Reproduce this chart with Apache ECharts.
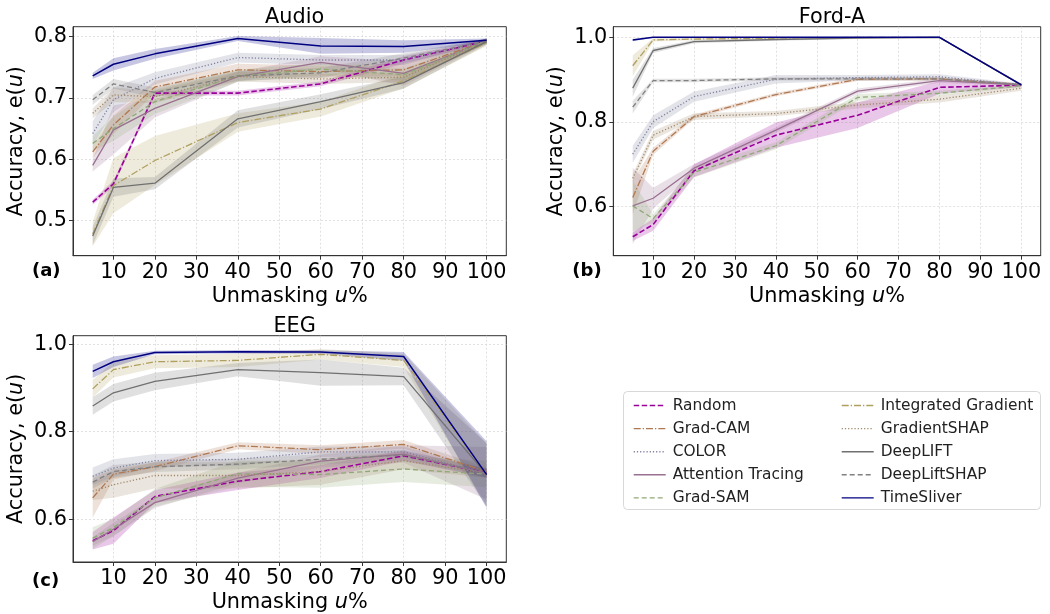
<!DOCTYPE html>
<html lang="en">
<head>
<meta charset="UTF-8">
<title>Unmasking accuracy</title>
<script src="https://cdn.jsdelivr.net/npm/echarts@6/dist/echarts.min.js"></script>
<style>
    html, body { margin: 0; padding: 0; background: #fff; }
    #container { width: 1050px; height: 614px; }
</style>
</head>
<body>
<div id="container"></div>
<script>
    // unmasking percentages
    const xVals = [5, 10, 20, 40, 60, 80, 100];
    const xTicks = [10, 20, 30, 40, 50, 60, 70, 80, 90, 100];

    const methods = ['Random', 'Grad-CAM', 'COLOR', 'Attention Tracing', 'Grad-SAM',
        'Integrated Gradient', 'GradientSHAP', 'DeepLIFT', 'DeepLiftSHAP', 'TimeSliver'];

    // rows follow the order of methods
    const audioMean = [
        [0.530, 0.560, 0.708, 0.708, 0.723, 0.762, 0.793],
        [0.612, 0.656, 0.718, 0.746, 0.743, 0.746, 0.793],
        [0.642, 0.697, 0.732, 0.766, 0.762, 0.762, 0.793],
        [0.590, 0.648, 0.683, 0.735, 0.758, 0.740, 0.793],
        [0.626, 0.650, 0.694, 0.736, 0.747, 0.738, 0.793],
        [0.478, 0.557, 0.598, 0.660, 0.682, 0.728, 0.790],
        [0.675, 0.705, 0.702, 0.735, 0.731, 0.734, 0.792],
        [0.475, 0.554, 0.561, 0.666, 0.694, 0.725, 0.792],
        [0.697, 0.723, 0.709, 0.736, 0.741, 0.765, 0.793],
        [0.736, 0.755, 0.772, 0.797, 0.785, 0.784, 0.794]
    ];
    const audioSd = [
        [0.004, 0.005, 0.004, 0.004, 0.004, 0.006, 0.003],
        [0.010, 0.015, 0.010, 0.010, 0.010, 0.010, 0.004],
        [0.020, 0.020, 0.010, 0.008, 0.008, 0.008, 0.004],
        [0.010, 0.040, 0.015, 0.008, 0.010, 0.020, 0.004],
        [0.012, 0.020, 0.020, 0.010, 0.010, 0.010, 0.004],
        [0.020, 0.045, 0.040, 0.015, 0.012, 0.012, 0.005],
        [0.008, 0.012, 0.010, 0.008, 0.008, 0.008, 0.004],
        [0.015, 0.015, 0.010, 0.014, 0.012, 0.010, 0.005],
        [0.008, 0.008, 0.008, 0.008, 0.008, 0.008, 0.004],
        [0.005, 0.010, 0.008, 0.004, 0.013, 0.010, 0.003]
    ];

    const fordMean = [
        [0.529, 0.558, 0.685, 0.769, 0.816, 0.882, 0.887],
        [0.622, 0.731, 0.813, 0.865, 0.901, 0.902, 0.888],
        [0.724, 0.801, 0.860, 0.901, 0.905, 0.907, 0.888],
        [0.602, 0.620, 0.691, 0.781, 0.873, 0.898, 0.888],
        [0.602, 0.572, 0.681, 0.744, 0.858, 0.868, 0.886],
        [0.933, 0.994, 0.996, 0.998, 1.000, 1.000, 0.888],
        [0.667, 0.769, 0.813, 0.820, 0.840, 0.854, 0.880],
        [0.880, 0.969, 0.990, 0.995, 0.998, 1.000, 0.888],
        [0.835, 0.898, 0.898, 0.902, 0.902, 0.902, 0.888],
        [0.994, 1.000, 1.000, 1.000, 1.000, 1.000, 0.888]
    ];
    const fordSd = [
        [0.010, 0.015, 0.015, 0.030, 0.030, 0.015, 0.004],
        [0.040, 0.008, 0.005, 0.004, 0.004, 0.004, 0.003],
        [0.020, 0.015, 0.012, 0.010, 0.006, 0.006, 0.003],
        [0.090, 0.025, 0.010, 0.006, 0.006, 0.005, 0.003],
        [0.060, 0.010, 0.012, 0.008, 0.008, 0.006, 0.003],
        [0.025, 0.004, 0.003, 0.002, 0.001, 0.001, 0.003],
        [0.010, 0.010, 0.008, 0.006, 0.008, 0.008, 0.006],
        [0.020, 0.006, 0.004, 0.003, 0.002, 0.002, 0.003],
        [0.015, 0.004, 0.004, 0.004, 0.004, 0.004, 0.003],
        [0.003, 0.001, 0.001, 0.001, 0.001, 0.001, 0.002]
    ];

    const eegMean = [
        [0.551, 0.574, 0.652, 0.687, 0.709, 0.745, 0.706],
        [0.649, 0.703, 0.720, 0.768, 0.759, 0.771, 0.709],
        [0.698, 0.717, 0.734, 0.737, 0.754, 0.754, 0.705],
        [0.549, 0.577, 0.638, 0.694, 0.733, 0.749, 0.705],
        [0.557, 0.581, 0.649, 0.704, 0.702, 0.715, 0.703],
        [0.898, 0.942, 0.960, 0.963, 0.977, 0.963, 0.702],
        [0.664, 0.679, 0.700, 0.700, 0.709, 0.734, 0.705],
        [0.859, 0.889, 0.915, 0.942, 0.935, 0.926, 0.702],
        [0.685, 0.709, 0.720, 0.726, 0.737, 0.747, 0.705],
        [0.938, 0.960, 0.981, 0.983, 0.982, 0.972, 0.702]
    ];
    const eegSd = [
        [0.020, 0.030, 0.015, 0.020, 0.015, 0.012, 0.010],
        [0.045, 0.012, 0.010, 0.008, 0.010, 0.010, 0.010],
        [0.020, 0.020, 0.015, 0.015, 0.012, 0.012, 0.010],
        [0.010, 0.015, 0.012, 0.012, 0.015, 0.020, 0.060],
        [0.025, 0.020, 0.020, 0.030, 0.030, 0.030, 0.030],
        [0.020, 0.018, 0.015, 0.015, 0.012, 0.015, 0.070],
        [0.020, 0.030, 0.030, 0.030, 0.030, 0.020, 0.010],
        [0.020, 0.020, 0.020, 0.015, 0.030, 0.020, 0.072],
        [0.015, 0.015, 0.012, 0.012, 0.012, 0.012, 0.010],
        [0.015, 0.012, 0.004, 0.004, 0.004, 0.010, 0.076]
    ];

    const audioTicks = [0.5, 0.6, 0.7, 0.8];
    const fordTicks = [0.6, 0.8, 1.0];
    const eegTicks = [0.6, 0.8, 1.0];

    // style per method
    const colors = ['#990099', '#b07850', '#7f7f9f', '#9a7090', '#90a878',
        '#b0a060', '#a08868', '#707070', '#808080', '#000080'];
    const dashes = [[5.5, 2.5], [7, 2, 1.3, 2], [1.2, 2], 'solid', [5, 3],
        [7, 2, 1.3, 2], [1.2, 2], 'solid', [5, 3], 'solid'];
    const widths = [1.6, 1.3, 1.3, 1.3, 1.3, 1.3, 1.3, 1.3, 1.3, 1.5];

    const FONT = 'DejaVu Sans';
    const BIG = 20.8;

    const panels = [
        { title: 'Audio', tag: '(a)', mean: audioMean, sd: audioSd, ticks: audioTicks,
          min: 0.4427, max: 0.8163, left: 73, top: 26.7, width: 433.3, height: 229 },
        { title: 'Ford-A', tag: '(b)', mean: fordMean, sd: fordSd, ticks: fordTicks,
          min: 0.4843, max: 1.0252, left: 613.3, top: 26.7, width: 427.4, height: 229 },
        { title: 'EEG', tag: '(c)', mean: eegMean, sd: eegSd, ticks: eegTicks,
          min: 0.5023, max: 1.0195, left: 73, top: 335.7, width: 433.3, height: 229.3 }
    ];

    var chart = echarts.init(document.getElementById('container'), null, { renderer: 'canvas' });

    const grids = [], xAxes = [], yAxes = [], series = [], titles = [];
    const splitStyle = { show: true, lineStyle: { color: '#d8d8d8', type: [2, 2], width: 0.8 } };
    const tickStyle = { show: true, length: 4, inside: false, lineStyle: { color: '#333', width: 1 } };
    const rich = { i: { fontStyle: 'italic', fontSize: BIG, fontFamily: FONT, color: '#000' } };

    // shaded band (mean ± sd) drawn as one polygon through the axis scales
    function bandSeries(gi, mean, sd, color)
    {
        const rows = xVals.map(function (x, k) { return [x, mean[k] - sd[k], mean[k] + sd[k]]; });
        return {
            type: 'custom', name: 'band', xAxisIndex: gi, yAxisIndex: gi, silent: true, z: 1,
            data: rows,
            encode: { x: 0, y: [1, 2] },
            renderItem: function (params, api)
            {
                if (params.dataIndex !== 0) return null;
                const upper = rows.map(function (r) { return api.coord([r[0], r[2]]); });
                const lower = rows.map(function (r) { return api.coord([r[0], r[1]]); }).reverse();
                return {
                    type: 'polygon',
                    shape: { points: upper.concat(lower) },
                    style: { fill: color, opacity: 0.22, stroke: null }
                };
            }
        };
    }

    panels.forEach(function (p, gi)
    {
        grids.push({
            left: p.left, top: p.top, width: p.width, height: p.height,
            show: true, borderColor: '#333', borderWidth: 1, backgroundColor: 'transparent'
        });
        xAxes.push({
            type: 'value', gridIndex: gi, min: 0.25, max: 104.75,
            axisLine: { show: true, onZero: false, lineStyle: { color: '#333' } },
            axisTick: Object.assign({ customValues: xTicks }, tickStyle),
            axisLabel: { customValues: xTicks, fontSize: BIG, fontFamily: FONT, color: '#000', margin: 6 },
            splitLine: splitStyle,
            name: 'Unmasking {i|u}%', nameLocation: 'middle', nameGap: 30,
            nameTextStyle: { fontSize: BIG, fontFamily: FONT, color: '#000', rich: rich }
        });
        yAxes.push({
            type: 'value', gridIndex: gi, min: p.min, max: p.max,
            axisLine: { show: true, lineStyle: { color: '#333' } },
            axisTick: Object.assign({ customValues: p.ticks }, tickStyle),
            axisLabel: {
                customValues: p.ticks, fontSize: BIG, fontFamily: FONT, color: '#000', margin: 6,
                formatter: function (v) { return v.toFixed(1); }
            },
            splitLine: splitStyle,
            name: 'Accuracy, e({i|u})', nameLocation: 'middle', nameGap: 46, nameRotate: 90,
            nameTextStyle: { fontSize: BIG, fontFamily: FONT, color: '#000', rich: rich }
        });
        titles.push({
            text: p.title, left: p.left + p.width / 2, top: p.top - 25, textAlign: 'center',
            textStyle: { fontSize: BIG, fontWeight: 'normal', fontFamily: FONT, color: '#000' }
        });
        titles.push({
            text: p.tag, left: p.left - 46, top: p.top + p.height + 2,
            textStyle: { fontSize: 18, fontWeight: 'bold', fontFamily: FONT, color: '#000' }
        });

        methods.forEach(function (m, mi)
        {
            series.push(bandSeries(gi, p.mean[mi], p.sd[mi], colors[mi]));
        });
        methods.forEach(function (m, mi)
        {
            const mean = p.mean[mi];
            series.push({
                type: 'line', name: m, xAxisIndex: gi, yAxisIndex: gi,
                data: xVals.map(function (x, k) { return [x, mean[k]]; }),
                symbol: 'none', silent: true,
                itemStyle: { color: colors[mi] },
                lineStyle: { color: colors[mi], width: widths[mi], type: dashes[mi] },
                z: 3 + mi * 0.01
            });
        });
    });

    const legendBase = {
        orient: 'vertical', top: 393, itemWidth: 32, itemHeight: 14, itemGap: 8.1,
        selectedMode: false,
        itemStyle: { opacity: 0 },
        lineStyle: { width: 1.4 },
        textStyle: { fontSize: 15.4, fontFamily: FONT, color: '#222', padding: [0, 0, 0, 2] }
    };

    var option = {
        animation: false,
        backgroundColor: '#fff',
        title: titles,
        grid: grids,
        xAxis: xAxes,
        yAxis: yAxes,
        legend: [
            Object.assign({}, legendBase, { left: 628, data: methods.slice(0, 5) }),
            Object.assign({}, legendBase, { left: 836, data: methods.slice(5) })
        ],
        graphic: [{
            type: 'rect', left: 623, top: 391, z: -1,
            shape: { width: 417, height: 118, r: 4 },
            style: { fill: '#fff', stroke: '#d8d8d8', lineWidth: 1 }
        }],
        series: series
    };

    chart.setOption(option);
</script>
</body>
</html>
